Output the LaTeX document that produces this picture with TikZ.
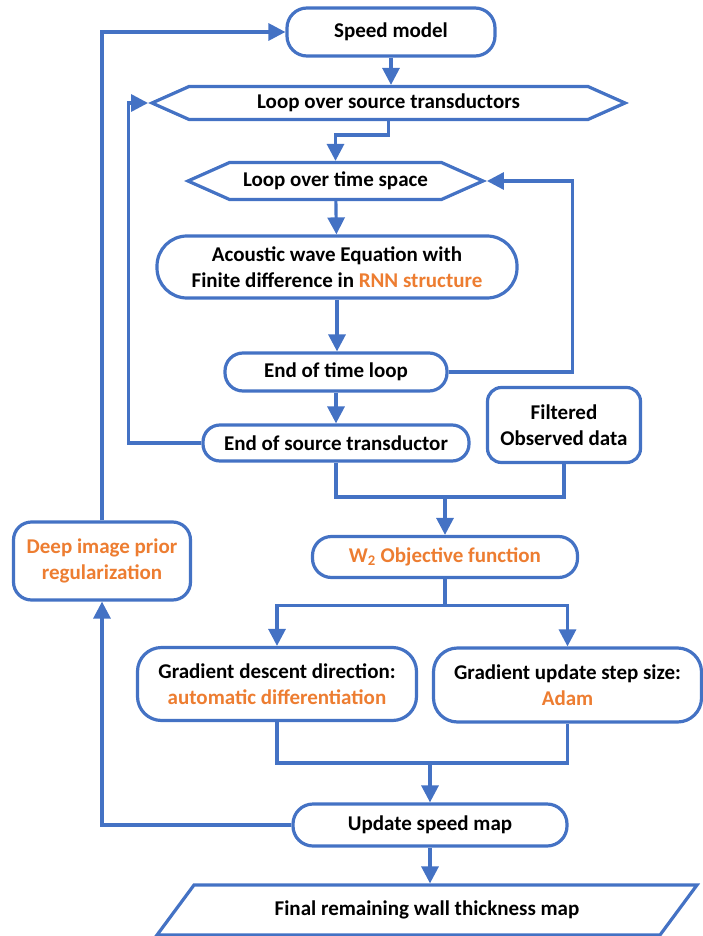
\documentclass[tikz,border=0pt]{standalone}
\usepackage{fontspec}
\setmainfont{Carlito}
\usetikzlibrary{arrows.meta,shapes.symbols,shapes.geometric}
\definecolor{flowblue}{HTML}{4472C4}
\definecolor{noteorange}{HTML}{ED7D31}

\tikzset{
  box/.style={draw=flowblue, line width=3.2pt, fill=white, rounded corners=#1,
    align=center, inner sep=2pt},
  box/.default=18pt,
  loophex/.style={draw=flowblue, line width=3.2pt, fill=white, signal,
    signal to=west and east, signal pointer angle=48, inner sep=2pt},
  link/.style={flowblue, line width=3.2pt},
  flow/.style={link, -{Triangle[length=17pt,width=17pt]}},
}

\begin{document}
\begin{tikzpicture}[x=1pt, y=-1pt, font=\fontsize{21}{26}\selectfont\bfseries]
  \useasboundingbox (0,0) rectangle (702,936);

  % --- forward modelling ---
  \node[box=20pt, minimum width=208pt, minimum height=48pt] (speed) at (391,32) {Speed model};
  \node[loophex, minimum width=473pt, minimum height=33pt] (srcloop) at (388.5,103) {Loop over source transductors};
  \node[loophex, minimum width=295pt, minimum height=37pt] (timeloop) at (335.5,181) {Loop over time space};
  \node[box=30pt, minimum width=360pt, minimum height=62pt] (wave) at (337,267)
    {Acoustic wave Equation with\\Finite difference in \textcolor{noteorange}{RNN structure}};
  \node[box=18pt, minimum width=222pt, minimum height=38pt] (endtime) at (336,372) {End of time loop};
  \node[box=17pt, minimum width=266pt, minimum height=36pt] (endsrc) at (336,443) {End of source transductor};
  \node[box=14pt, minimum width=153pt, minimum height=75pt] (filtered) at (564,425) {Filtered\\Observed data};

  % --- inversion ---
  \node[box=19pt, minimum width=265pt, minimum height=41pt, text=noteorange] (objective) at (445,557)
    {W\textsubscript{2} Objective function};
  \node[box=24pt, minimum width=279pt, minimum height=73pt] (gdd) at (277,684)
    {Gradient descent direction:\\\textcolor{noteorange}{automatic differentiation}};
  \node[box=24pt, minimum width=268pt, minimum height=74pt] (adam) at (567.5,685)
    {Gradient update step size:\\\textcolor{noteorange}{Adam}};
  \node[box=20pt, minimum width=274pt, minimum height=42pt] (update) at (430,825) {Update speed map};
  \node[box=18pt, minimum width=177pt, minimum height=78pt, text=noteorange] (dip) at (102,561)
    {Deep image prior\\regularization};
  \node[draw=flowblue, line width=3.2pt, trapezium, trapezium left angle=34, trapezium right angle=146,
    trapezium stretches body, minimum width=540pt, minimum height=50pt] (final) at (427,910)
    {Final remaining wall thickness map};

  % --- connectors ---
  \draw[flow] (speed.south) -- (speed.south |- srcloop.north);
  \draw[flow] (srcloop.south) -- ++(0,14) -| (timeloop.north);
  \draw[flow] (timeloop) -- (wave);
  \draw[flow] (wave.south) -- (wave.south |- endtime.north);
  \draw[flow] (endtime.east) -- ++(124,0) |- (timeloop.east);
  \draw[flow] (endtime) -- (endsrc);
  \draw[flow] (endsrc.west) -- ++(-73,0) |- (srcloop.west);

  \coordinate (join1) at (445,497);
  \draw[link] (endsrc.south) |- (filtered.south |- join1) -- (filtered.south);
  \draw[flow] (join1) -- (objective);

  \draw[link] (objective.south) -- ++(0,26) coordinate (split);
  \draw[flow] (split) -| (gdd.north);
  \draw[flow] (split) -| (adam.north);

  \coordinate (join2) at (430,763);
  \draw[link] (gdd.south) |- (adam.south |- join2) -- (adam.south);
  \draw[flow] (join2) -- (update);

  \draw[flow] (update.west) -| (dip.south);
  \draw[flow] (dip.north) |- (speed.west);
  \draw[flow] (update.south) -- (update.south |- final.north);
\end{tikzpicture}
\end{document}
